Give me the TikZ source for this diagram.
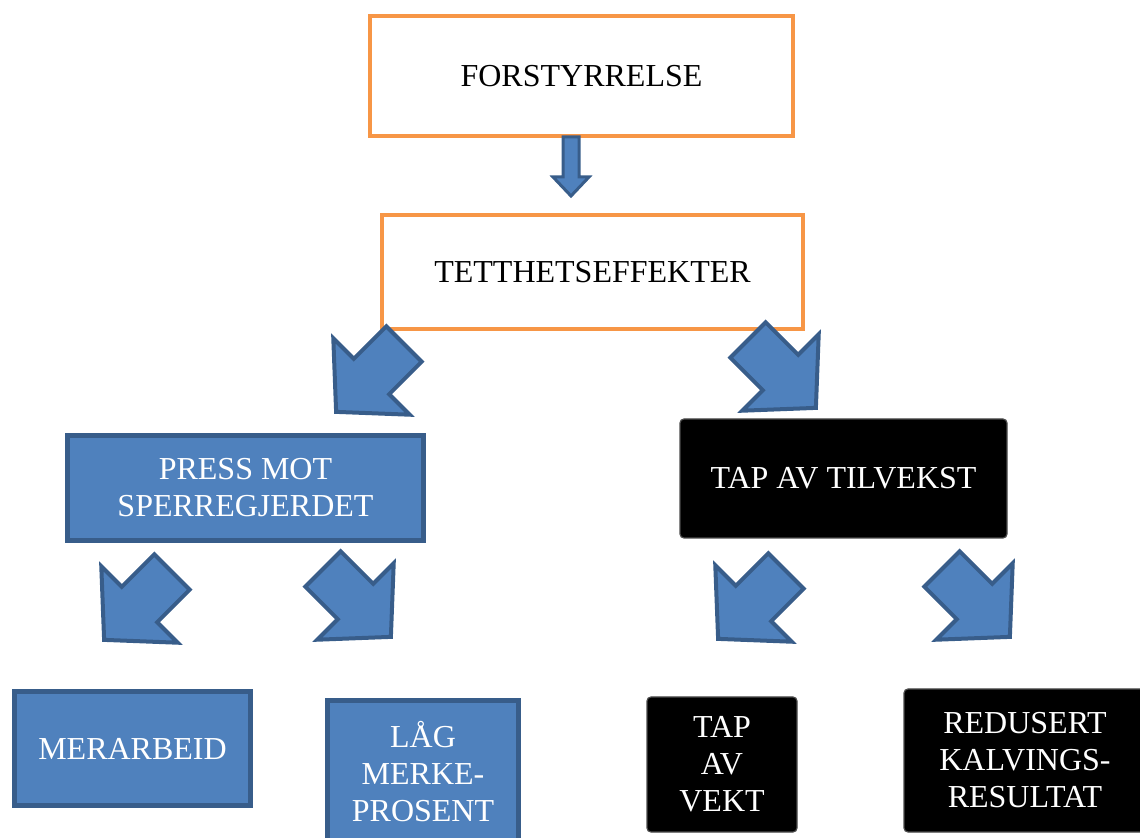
\documentclass[tikz,border=0pt]{standalone}
\usepackage{fontspec}
\setmainfont{Liberation Serif}
\usetikzlibrary{positioning}
\definecolor{kantoransje}{HTML}{F79646}
\definecolor{blaafyll}{HTML}{4F81BD}
\definecolor{blaakant}{HTML}{385D8A}
\tikzset{
x=0.5pt, y=-0.5pt, % one unit is one pixel of the reference
boks/.style={rectangle, align=center, font=\fontsize{16}{18.5}\selectfont}, % common to all boxes
hvit/.style={boks, draw=kantoransje, line width=2pt, fill=white}, % orange framed boxes
blaa/.style={boks, draw=blaakant, line width=2.5pt, fill=blaafyll, text=white}, % blue boxes
svart/.style={boks, draw=black!70, line width=0.6pt, fill=black, rounded corners=2pt, text=white}, % black boxes
pil/.style={draw=blaakant, fill=blaafyll, line join=miter}, % block arrows
pics/blokkpil/.style n args={4}{code={ % length, head length, half shaft, half head
    \draw[pil] (0,-#3) -- (#1-#2,-#3) -- (#1-#2,-#4) -- (#1,0) -- (#1-#2,#4) -- (#1-#2,#3) -- (0,#3) -- cycle;
}},
}

\begin{document}
\begin{tikzpicture}
    \clip (0,0) rectangle (1140,838);

    \node[hvit, minimum width=211.5pt, minimum height=60pt] (FORST) at (581.5,76) {FORSTYRRELSE};
    \node[hvit, minimum width=210.5pt, minimum height=57pt] (TETT) at (592.5,272) {TETTHETSEFFEKTER};
    \node[blaa, minimum width=178pt, minimum height=52.5pt] (PRESS) at (245.5,488) {PRESS MOT\\SPERREGJERDET};
    \node[svart, minimum width=163.5pt, minimum height=59.5pt] (TILVEKST) at (843.5,478.5) {TAP AV TILVEKST};
    \node[blaa, minimum width=118pt, minimum height=57pt] (MERARB) at (132.5,748.5) {MERARBEID};
    \node[blaa, minimum width=95.5pt, minimum height=71.5pt] (LAAG) at (423,772) {LÅG\\MERKE-\\PROSENT};
    \node[svart, minimum width=75pt, minimum height=67.5pt] (VEKT) at (722,764.5) {TAP\\AV\\VEKT};
    \node[svart, minimum width=121pt, minimum height=71.5pt] (KALV) at (1025,760.5) {REDUSERT\\KALVINGS-\\RESULTAT};

    % arrows between the levels
    \pic[rotate=-90, line width=1.5pt] at (571,137) {blokkpil={59}{19}{8}{18}};
    \pic[rotate=-135, line width=2pt] at (404,344) {blokkpil={96}{50}{25}{54}};
    \pic[rotate=-45, line width=2pt] at (748,340) {blokkpil={96}{50}{25}{54}};
    \pic[rotate=-135, line width=2pt] at (172,572) {blokkpil={96}{50}{25}{54}};
    \pic[rotate=-45, line width=2pt] at (323,569) {blokkpil={96}{50}{25}{54}};
    \pic[rotate=-135, line width=2pt] at (786,571) {blokkpil={96}{50}{25}{54}};
    \pic[rotate=-45, line width=2pt] at (942,569) {blokkpil={96}{50}{25}{54}};
\end{tikzpicture}
\end{document}
